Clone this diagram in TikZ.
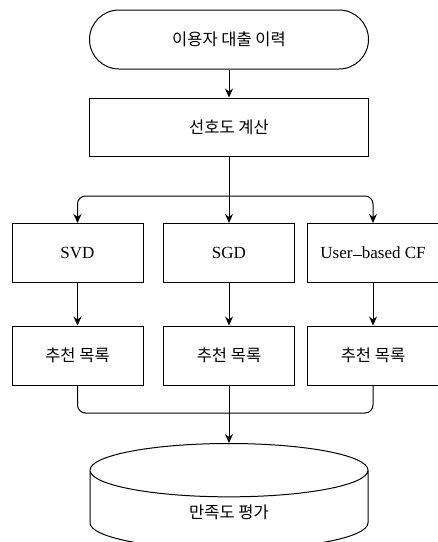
\documentclass[tikz,border=0pt]{standalone}
\usepackage{fontspec}
\setmainfont{Liberation Serif}
\newfontfamily\kr{Noto Sans CJK KR}
\usetikzlibrary{shapes,shapes.misc,shapes.geometric,arrows.meta}

\begin{document}
\begin{tikzpicture}[x=1pt,y=-1pt,
  every node/.append style={draw,line width=1pt,inner sep=0pt},
  link/.style={-{Stealth[length=9pt,width=8pt]},line width=1pt,rounded corners=8pt}]
  \tikzstyle{box} = [rectangle,minimum width=131pt,minimum height=59pt]
  \tikzstyle{word} = [font=\kr\fontsize{16.5}{20}\selectfont]
  \tikzstyle{algo} = [font=\fontsize{17}{20}\selectfont]
  \useasboundingbox (0,0) rectangle (438,542);
  \node (hist) [rounded rectangle,minimum width=279pt,minimum height=59pt,word] at (229,39.5) {이용자 대출 이력};
  \node (pref) [rectangle,minimum width=279pt,minimum height=58pt,word] at (229,127) {선호도 계산};
  \node (svd) [box,algo] at (77.5,253) {SVD};
  \node (sgd) [box,algo] at (229,253) {SGD};
  \node (cf) [box,algo] at (373,253) {User\raisebox{0.3ex}{\rule{0.55em}{0.06em}}based CF};
  \node (list1) [box,word] at (77.5,355.5) {추천 목록};
  \node (list2) [box,word] at (229,355.5) {추천 목록};
  \node (list3) [box,word] at (373,355.5) {추천 목록};
  \node (eval) [cylinder,shape border rotate=90,aspect=0.67,minimum width=278pt,minimum height=106pt,anchor=north,word] at (229,443) {\raisebox{-8pt}[0pt][0pt]{만족도 평가}};
  \coordinate (split) at (229,196);
  \coordinate (join) at (229,413);
  % flow
  \draw[link] (hist) -- (pref);
  \draw[link] (pref) -- (sgd);
  \draw[link] (split) -| (svd);
  \draw[link] (split) -| (cf);
  \draw[link] (svd) -- (list1);
  \draw[link] (sgd) -- (list2);
  \draw[link] (cf) -- (list3);
  \draw[line width=1pt,rounded corners=8pt] (list1) |- (join);
  \draw[line width=1pt,rounded corners=8pt] (list3) |- (join);
  \draw[link] (list2) -- (eval);
\end{tikzpicture}
\end{document}
